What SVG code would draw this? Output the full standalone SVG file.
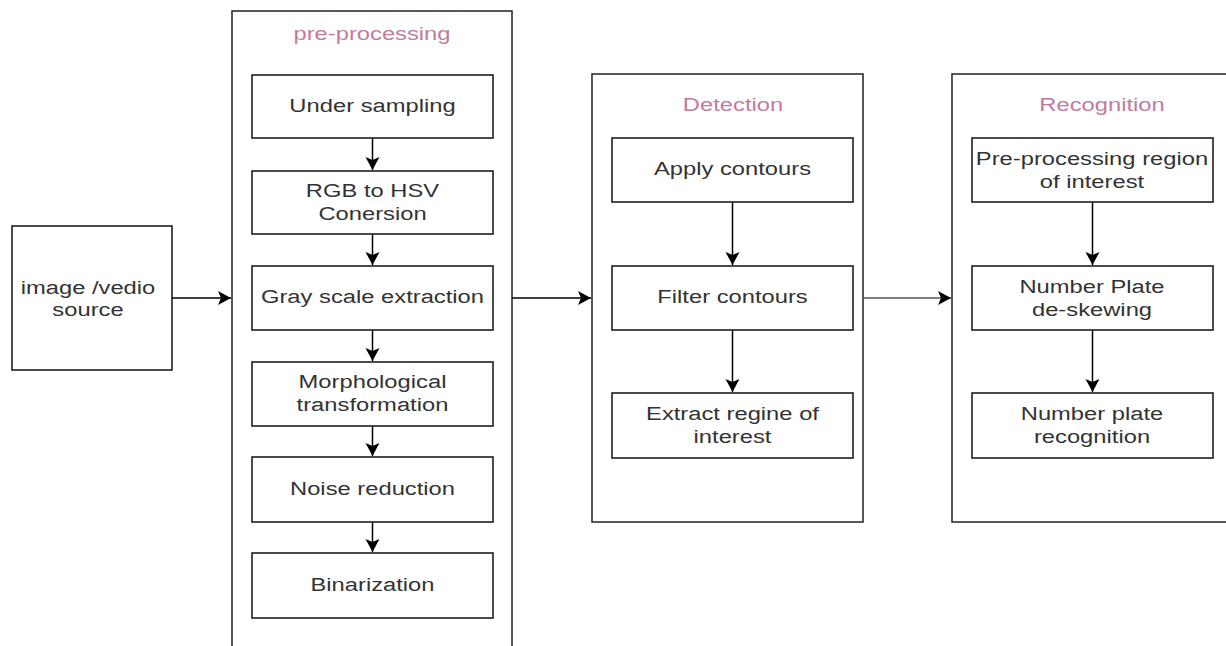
<svg xmlns="http://www.w3.org/2000/svg" width="1226" height="646" viewBox="0 0 1226 646">
<style>
.c{fill:#fff;stroke:#222;stroke-width:1.5}
.b{fill:#fff;stroke:#111;stroke-width:1.5}
.t{font-family:"Liberation Sans",Arial,sans-serif;font-size:18px;fill:#333;text-anchor:middle}
.h{font-family:"Liberation Sans",Arial,sans-serif;font-size:18px;fill:#c27ba0;text-anchor:middle}
.e{fill:none;stroke:#000;stroke-width:1.5}
</style>
<defs>
<marker id="a" markerUnits="userSpaceOnUse" markerWidth="16" markerHeight="16" viewBox="-14 -8 16 16" refX="0" refY="0" orient="auto">
<path d="M0,0 L-13,-7 L-10,0 L-13,7 Z" fill="#000"/>
</marker>
</defs>
<g id="preprocessing">
<rect class="c" x="232" y="11" width="280" height="650"/>
<text class="h" transform="translate(372,40) scale(1.32,1)">pre-processing</text>
</g>
<g id="detection">
<rect class="c" x="592" y="74" width="271" height="448"/>
<text class="h" transform="translate(733,111) scale(1.32,1)">Detection</text>
</g>
<g id="recognition">
<rect class="c" x="952" y="74" width="310" height="448"/>
<text class="h" transform="translate(1102,111) scale(1.32,1)">Recognition</text>
</g>
<g id="source">
<rect class="b" x="12" y="226" width="160" height="144"/>
<text class="t" transform="translate(88,294) scale(1.32,1)">image /vedio</text>
<text class="t" transform="translate(88,316) scale(1.32,1)">source</text>
</g>
<g id="under-sampling">
<rect class="b" x="252" y="75" width="241" height="63"/>
<text class="t" transform="translate(372.5,112) scale(1.32,1)">Under sampling</text>
</g>
<g id="rgb-hsv">
<rect class="b" x="252" y="171" width="241" height="63"/>
<text class="t" transform="translate(372.5,197) scale(1.32,1)">RGB to HSV</text>
<text class="t" transform="translate(372.5,220) scale(1.32,1)">Conersion</text>
</g>
<g id="gray-scale">
<rect class="b" x="252" y="266" width="241" height="64"/>
<text class="t" transform="translate(372.5,303) scale(1.32,1)">Gray scale extraction</text>
</g>
<g id="morphological">
<rect class="b" x="252" y="362" width="241" height="64"/>
<text class="t" transform="translate(372.5,388) scale(1.32,1)">Morphological</text>
<text class="t" transform="translate(372.5,411) scale(1.32,1)">transformation</text>
</g>
<g id="noise">
<rect class="b" x="252" y="457" width="241" height="65"/>
<text class="t" transform="translate(372.5,495) scale(1.32,1)">Noise reduction</text>
</g>
<g id="binarization">
<rect class="b" x="252" y="553" width="241" height="65"/>
<text class="t" transform="translate(372.5,591) scale(1.32,1)">Binarization</text>
</g>
<g id="apply-contours">
<rect class="b" x="612" y="138" width="241" height="64"/>
<text class="t" transform="translate(732.5,175) scale(1.32,1)">Apply contours</text>
</g>
<g id="filter-contours">
<rect class="b" x="612" y="266" width="241" height="64"/>
<text class="t" transform="translate(732.5,303) scale(1.32,1)">Filter contours</text>
</g>
<g id="extract">
<rect class="b" x="612" y="393" width="241" height="65"/>
<text class="t" transform="translate(732.5,420) scale(1.32,1)">Extract regine of</text>
<text class="t" transform="translate(732.5,443) scale(1.32,1)">interest</text>
</g>
<g id="pre-roi">
<rect class="b" x="972" y="138" width="241" height="64"/>
<text class="t" transform="translate(1092,165) scale(1.32,1)">Pre-processing region</text>
<text class="t" transform="translate(1092,188) scale(1.32,1)">of interest</text>
</g>
<g id="deskew">
<rect class="b" x="972" y="266" width="241" height="64"/>
<text class="t" transform="translate(1092,293) scale(1.32,1)">Number Plate</text>
<text class="t" transform="translate(1092,316) scale(1.32,1)">de-skewing</text>
</g>
<g id="plate-recognition">
<rect class="b" x="972" y="393" width="241" height="65"/>
<text class="t" transform="translate(1092,420) scale(1.32,1)">Number plate</text>
<text class="t" transform="translate(1092,443) scale(1.32,1)">recognition</text>
</g>
<g id="connectors">
<line class="e" x1="172" y1="298" x2="231" y2="298" marker-end="url(#a)"/>
<line class="e" x1="372.5" y1="138" x2="372.5" y2="170" marker-end="url(#a)"/>
<line class="e" x1="372.5" y1="234" x2="372.5" y2="265" marker-end="url(#a)"/>
<line class="e" x1="372.5" y1="330" x2="372.5" y2="361" marker-end="url(#a)"/>
<line class="e" x1="372.5" y1="426" x2="372.5" y2="456" marker-end="url(#a)"/>
<line class="e" x1="372.5" y1="522" x2="372.5" y2="552" marker-end="url(#a)"/>
<line class="e" x1="512" y1="298" x2="591" y2="298" marker-end="url(#a)"/>
<line class="e" x1="732.5" y1="202" x2="732.5" y2="265" marker-end="url(#a)"/>
<line class="e" x1="732.5" y1="330" x2="732.5" y2="392" marker-end="url(#a)"/>
<line class="e" x1="863" y1="298" x2="951" y2="298" style="stroke:#555" marker-end="url(#a)"/>
<line class="e" x1="1092.5" y1="202" x2="1092.5" y2="265" marker-end="url(#a)"/>
<line class="e" x1="1092.5" y1="330" x2="1092.5" y2="392" marker-end="url(#a)"/>
</g>
</svg>
